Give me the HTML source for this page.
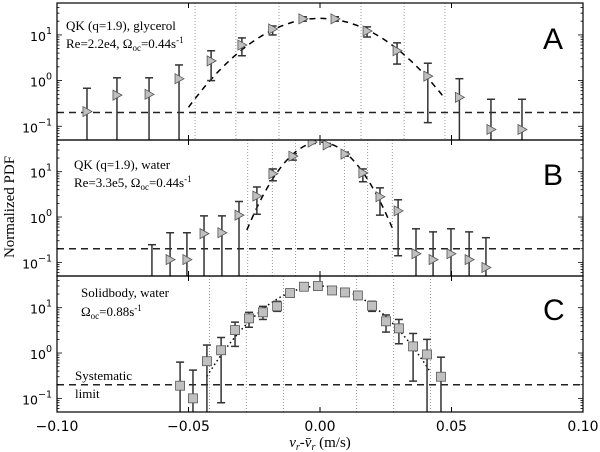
<!DOCTYPE html>
<html><head><meta charset="utf-8"><style>
body{margin:0;background:#fff;}
svg{display:block;font-family:"Liberation Serif",serif;}
.tk{font-family:"DejaVu Sans","Liberation Sans",sans-serif;font-size:14px;}
.ytk{font-family:"DejaVu Sans","Liberation Sans",sans-serif;font-size:12.5px;}
</style></head><body>
<svg id="chart" width="600" height="452" viewBox="0 0 600 452" xmlns="http://www.w3.org/2000/svg">
<defs>
<clipPath id="cA"><rect x="57" y="3" width="526" height="137"/></clipPath>
<clipPath id="cB"><rect x="57" y="140" width="526" height="136"/></clipPath>
<clipPath id="cC"><rect x="57" y="276" width="526" height="136"/></clipPath>
</defs>
<g id="layer"></g>
<text x="14" y="207" transform="rotate(-90 14 207)" text-anchor="middle" font-size="15">Normalized PDF</text>
<text x="320" y="447" text-anchor="middle" font-size="15"><tspan font-style="italic">v</tspan><tspan font-style="italic" font-size="10" dy="3">r</tspan><tspan dy="-3">-</tspan><tspan font-style="italic">v̄</tspan><tspan font-style="italic" font-size="10" dy="3">r</tspan><tspan dy="-3"> (m/s)</tspan></text>
<g font-size="13">
<text x="66" y="30">QK (q=1.9), glycerol</text>
<text x="66" y="48">Re=2.2e4, Ω<tspan font-size="9" dy="3">oc</tspan><tspan dy="-3">=0.44s</tspan><tspan font-size="9" dy="-5">-1</tspan></text>
</g>
<g font-size="13">
<text x="74" y="169">QK (q=1.9), water</text>
<text x="74" y="187">Re=3.3e5, Ω<tspan font-size="9" dy="3">oc</tspan><tspan dy="-3">=0.44s</tspan><tspan font-size="9" dy="-5">-1</tspan></text>
</g>
<g font-size="13">
<text x="81" y="297">Solidbody, water</text>
<text x="81" y="316">Ω<tspan font-size="9" dy="3">oc</tspan><tspan dy="-3">=0.88s</tspan><tspan font-size="9" dy="-5">-1</tspan></text>
<text x="75" y="380">Systematic</text>
<text x="75" y="398">limit</text>
</g>
<g font-family="Liberation Sans, sans-serif" font-size="30">
<text x="543" y="49">A</text>
<text x="543" y="185">B</text>
<text x="543" y="320">C</text>
</g>
</svg>
<script>
// ---- data ----
const xTicks = [-0.10, -0.05, 0.00, 0.05, 0.10];
const xTickLabels = ["\u22120.10", "\u22120.05", "0.00", "0.05", "0.10"];
const yTickExps = [-1, 0, 1];
const systematicLimit = 0.2;

const aX  = [-0.0886,-0.0772,-0.065,-0.0536,-0.0414,-0.0297,-0.018,-0.0065,0.0057,0.0179,0.0293,0.041,0.053,0.065,0.0768];
const aV  = [0.21,0.48,0.5,1.1,2.7,6.0,13.5,22.5,22.5,12.2,4.5,1.25,0.43,0.085,0.085];
const aHi = [0.68,1.15,1.15,2.2,4.5,8.6,15.7,25,25,15,6.7,2.4,1.1,0.39,0.39];
const aLo = [0.01,0.01,0.01,0.01,1.0,3.5,10,20,20,9,2.3,0.12,0.01,0.01,0.01];
const aDotted = [-0.0475,-0.032,-0.0156,0.0156,0.032,0.0475];
const aFit = {amp:23, sigma:0.0167, from:-0.05, to:0.047};

const bX  = [-0.0639,-0.057,-0.0506,-0.0441,-0.0373,-0.0308,-0.024,-0.0179,-0.0103,-0.003,0.0027,0.0095,0.0163,0.0228,0.0297,0.0365,0.043,0.0498,0.0567,0.0631];
const bV  = [0.03,0.115,0.115,0.43,0.45,1.1,2.9,9.0,22,45,39,24.5,9.4,2.8,1.37,0.155,0.115,0.155,0.115,0.077];
const bHi = [0.245,0.45,0.45,1.06,1.06,2.2,4.6,11.5,25,48,42,27,11.5,4.4,2.4,0.55,0.47,0.55,0.47,0.35];
const bLo = [0.01,0.01,0.01,0.01,0.01,0.01,1.15,6.3,18,42,36,22,6,1.1,0.14,0.01,0.01,0.01,0.01,0.01];
const bDotted = [-0.0275,-0.0181,-0.0093,0.0093,0.0181,0.0275];
const bFit = {amp:45, sigma:0.0093, from:-0.0278, to:0.0278};

const cX  = [-0.0532,-0.0483,-0.043,-0.0376,-0.0323,-0.027,-0.0217,-0.0163,-0.0114,-0.0061,-0.0008,0.0046,0.0095,0.0144,0.0198,0.0251,0.03,0.0354,0.0407,0.046];
const cV  = [0.19,0.1,0.66,1.15,3.2,5.8,7.9,10.7,21,29,30,24,21.7,18.6,11,5,3.5,1.4,0.93,0.3];
const cHi = [0.63,0.42,1.5,2.2,4.8,7.9,10.7,13.8,23,32,33,27,24,21,13.8,6.9,5.5,2.7,2.0,0.81];
const cLo = [0.01,0.01,0.01,0.08,1.4,3.7,5.5,8.3,19,26,27,21.5,19.5,16,8.3,2.9,1.6,0.24,0.01,0.01];
const cDotted = [-0.042,-0.028,-0.0139,0.0139,0.028,0.042];
const cFit = {amp:30, sigma:0.0142, from:-0.043, to:0.0415};

// ---- geometry ----
const X0=57, X1=583;
const panels=[
 {id:'a',top:3,bot:140,clip:'cA',x:aX,v:aV,hi:aHi,lo:aLo,dot:aDotted,fit:aFit,marker:'tri',fitDash:'6,5'},
 {id:'b',top:140,bot:276,clip:'cB',x:bX,v:bV,hi:bHi,lo:bLo,dot:bDotted,fit:bFit,marker:'tri',fitDash:'6,5'},
 {id:'c',top:276,bot:412,clip:'cC',x:cX,v:cV,hi:cHi,lo:cLo,dot:cDotted,fit:cFit,marker:'sq',fitDash:'1.5,3'}
];
const LMIN=Math.log10(0.05), LMAX=Math.log10(50);
const sx=x=>X0+(x+0.1)/0.2*(X1-X0);
const NS='http://www.w3.org/2000/svg';
const layer=document.getElementById('layer');
function mk(tag,attrs,parent){const e=document.createElementNS(NS,tag);for(const k in attrs)e.setAttribute(k,attrs[k]);(parent||layer).appendChild(e);return e;}

panels.forEach(p=>{
  const sy=v=>p.bot-(Math.log10(v)-LMIN)/(LMAX-LMIN)*(p.bot-p.top);
  const g=mk('g',{});
  
  
  const cg=mk('g',{'clip-path':'url(#'+p.clip+')'},g);
  p.dot.forEach(d=>{
    const l=mk('line',{x1:sx(d),x2:sx(d),y1:p.top,y2:p.bot,stroke:'#999','stroke-width':1,'stroke-dasharray':'1,2'},cg);
    
    
  });
  const h=mk('line',{x1:X0,x2:X1,y1:sy(systematicLimit),y2:sy(systematicLimit),stroke:'#222','stroke-width':1.5,'stroke-dasharray':'7,5'},cg);
  
  
  let d='';
  for(let i=0;i<=80;i++){const x=p.fit.from+(p.fit.to-p.fit.from)*i/80;const v=p.fit.amp*Math.exp(-x*x/(2*p.fit.sigma*p.fit.sigma));d+=(i?'L':'M')+sx(x).toFixed(1)+','+sy(v).toFixed(1);}
  const f=mk('path',{d:d,fill:'none',stroke:'#000','stroke-width':1.5,'stroke-dasharray':p.fitDash},cg);
  
  
  p.x.forEach((x,i)=>{
    const cx=sx(x), yh=sy(p.hi[i]), yl=sy(p.lo[i]), yv=sy(p.v[i]);
    const eg=mk('g',{stroke:'#333','stroke-width':1.5},cg);
    
    
    mk('line',{x1:cx,x2:cx,y1:yh,y2:yl},eg);
    mk('line',{x1:cx-4,x2:cx+4,y1:yh,y2:yh},eg);
    mk('line',{x1:cx-4,x2:cx+4,y1:yl,y2:yl},eg);
    let m;
    if(p.marker==='tri') m=mk('polygon',{points:(cx-4)+','+(yv-5)+' '+(cx+5)+','+yv+' '+(cx-4)+','+(yv+5),fill:'#c0c0c0',stroke:'#555','stroke-width':0.8},cg);
    else m=mk('rect',{x:cx-4.5,y:yv-4.5,width:9,height:9,fill:'#c0c0c0',stroke:'#555','stroke-width':0.8},cg);
    
    
  });
  const fr=mk('rect',{x:X0,y:p.top,width:X1-X0,height:p.bot-p.top,fill:'none',stroke:'#000','stroke-width':1.2},g);
  
  
  xTicks.forEach(t=>{
    mk('line',{x1:sx(t),x2:sx(t),y1:p.bot,y2:p.bot-5,stroke:'#000'},g);
    mk('line',{x1:sx(t),x2:sx(t),y1:p.top,y2:p.top+5,stroke:'#000'},g);
  });
  for(let e=-2;e<=2;e++){
    for(let k=1;k<10;k++){
      const v=k*Math.pow(10,e); if(v<0.05||v>50)continue;
      const y=sy(v), len=k===1?5:2.5;
      mk('line',{x1:X0,x2:X0+len,y1:y,y2:y,stroke:'#000','stroke-width':0.8},g);
      mk('line',{x1:X1,x2:X1-len,y1:y,y2:y,stroke:'#000','stroke-width':0.8},g);
    }
  }
  yTickExps.forEach(e=>{
    const t=mk('text',{x:52,y:sy(Math.pow(10,e))+6,'text-anchor':'end',class:'ytk'},g);
    
    
    t.innerHTML='10<tspan font-size="9.5" dy="-7">'+e.toString().replace('-','\u2212')+'</tspan>';
  });
});
xTicks.forEach((t,i)=>{
  const tx=mk('text',{x:sx(t),y:431,'text-anchor':'middle',class:'tk'});
  
  
  tx.textContent=xTickLabels[i];
});
</script>
</body></html>
